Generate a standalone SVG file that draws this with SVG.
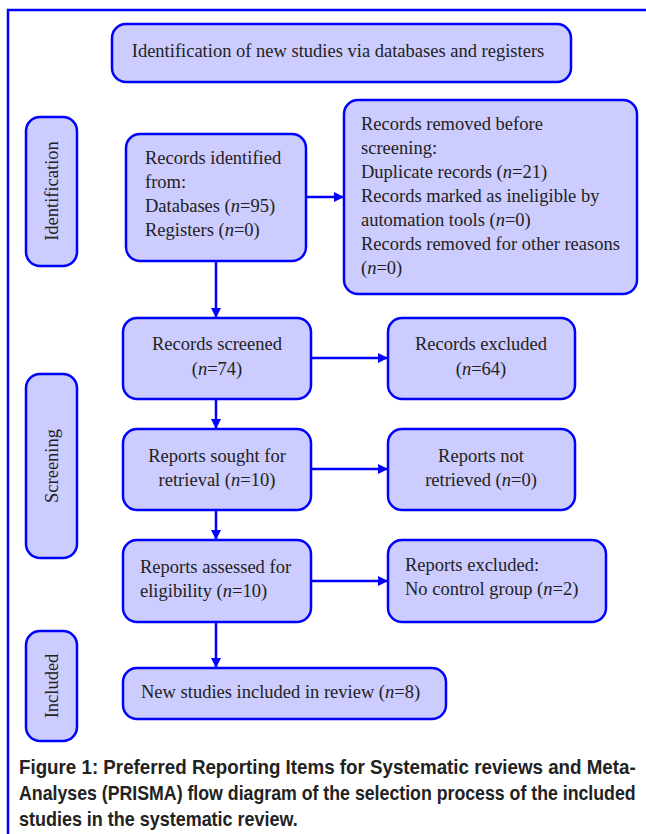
<svg xmlns="http://www.w3.org/2000/svg" width="646" height="834" viewBox="0 0 646 834">
<defs>
<style>
.box{fill:#ccccff;stroke:#0000ff;stroke-width:2.5}
.t{font-family:"Liberation Serif","Times New Roman",serif;font-size:18.5px;fill:#222}
.c{text-anchor:middle}
.cap{font-family:"Liberation Sans",Arial,sans-serif;font-size:21px;font-weight:bold;fill:#222}
.ln{stroke:#0000ff;stroke-width:2.5;fill:none}
</style>
<marker id="ah" markerWidth="10" markerHeight="10" refX="9" refY="5" orient="auto" markerUnits="userSpaceOnUse" viewBox="0 0 10 10">
<path d="M0,0 L10,5 L0,10 z" fill="#0000ff"/>
</marker>
</defs>
<rect width="646" height="834" fill="#fff"/>
<path d="M8,834 V10 H646" class="ln" stroke-width="2"/>

<g id="title">
<rect class="box" x="112" y="24" width="459" height="58" rx="14"/>
<text class="t c" x="338" y="57">Identification of new studies via databases and registers</text>
</g>

<g id="side-identification">
<rect class="box" x="26" y="117" width="51" height="149" rx="14"/>
<text class="t c" transform="translate(58,191) rotate(-90)">Identification</text>
</g>
<g id="side-screening">
<rect class="box" x="26" y="374" width="51" height="184" rx="14"/>
<text class="t c" transform="translate(58,466) rotate(-90)">Screening</text>
</g>
<g id="side-included">
<rect class="box" x="26" y="631" width="51" height="110" rx="14"/>
<text class="t c" transform="translate(58,686) rotate(-90)">Included</text>
</g>

<g id="identified">
<rect class="box" x="126" y="134" width="180" height="127" rx="14"/>
<text class="t" x="145" y="164">Records identified</text>
<text class="t" x="145" y="188">from:</text>
<text class="t" x="145" y="212">Databases (<tspan font-style="italic">n</tspan>=95)</text>
<text class="t" x="145" y="236">Registers (<tspan font-style="italic">n</tspan>=0)</text>
</g>

<g id="removed">
<rect class="box" x="344" y="100" width="293" height="194" rx="14"/>
<text class="t" x="361" y="130">Records removed before</text>
<text class="t" x="361" y="154">screening:</text>
<text class="t" x="361" y="178">Duplicate records (<tspan font-style="italic">n</tspan>=21)</text>
<text class="t" x="361" y="202">Records marked as ineligible by</text>
<text class="t" x="361" y="226">automation tools (<tspan font-style="italic">n</tspan>=0)</text>
<text class="t" x="361" y="250">Records removed for other reasons</text>
<text class="t" x="361" y="274">(<tspan font-style="italic">n</tspan>=0)</text>
</g>

<g id="screened">
<rect class="box" x="123" y="318" width="188" height="81" rx="14"/>
<text class="t c" x="217" y="350">Records screened</text>
<text class="t c" x="217" y="375">(<tspan font-style="italic">n</tspan>=74)</text>
</g>
<g id="excluded">
<rect class="box" x="388" y="318" width="187" height="81" rx="14"/>
<text class="t c" x="481" y="350">Records excluded</text>
<text class="t c" x="481" y="375">(<tspan font-style="italic">n</tspan>=64)</text>
</g>

<g id="sought">
<rect class="box" x="123" y="429" width="188" height="81" rx="14"/>
<text class="t c" x="217" y="462">Reports sought for</text>
<text class="t c" x="217" y="486">retrieval (<tspan font-style="italic">n</tspan>=10)</text>
</g>
<g id="notretrieved">
<rect class="box" x="388" y="429" width="187" height="81" rx="14"/>
<text class="t c" x="481" y="462">Reports not</text>
<text class="t c" x="481" y="486">retrieved (<tspan font-style="italic">n</tspan>=0)</text>
</g>

<g id="assessed">
<rect class="box" x="123" y="540" width="188" height="82" rx="14"/>
<text class="t" x="140" y="573">Reports assessed for</text>
<text class="t" x="140" y="597">eligibility (<tspan font-style="italic">n</tspan>=10)</text>
</g>
<g id="reportsexcluded">
<rect class="box" x="388" y="540" width="218" height="82" rx="14"/>
<text class="t" x="405" y="571">Reports excluded:</text>
<text class="t" x="405" y="595">No control group (<tspan font-style="italic">n</tspan>=2)</text>
</g>

<g id="included">
<rect class="box" x="123" y="668" width="323" height="51" rx="14"/>
<text class="t" x="141" y="698">New studies included in review (<tspan font-style="italic">n</tspan>=8)</text>
</g>

<g id="connectors">
<line class="ln" x1="306" y1="197" x2="343" y2="197" marker-end="url(#ah)"/>
<line class="ln" x1="216" y1="261" x2="216" y2="317" marker-end="url(#ah)"/>
<line class="ln" x1="311" y1="358" x2="387" y2="358" marker-end="url(#ah)"/>
<line class="ln" x1="216" y1="399" x2="216" y2="428" marker-end="url(#ah)"/>
<line class="ln" x1="311" y1="469" x2="387" y2="469" marker-end="url(#ah)"/>
<line class="ln" x1="216" y1="510" x2="216" y2="539" marker-end="url(#ah)"/>
<line class="ln" x1="311" y1="581" x2="387" y2="581" marker-end="url(#ah)"/>
<line class="ln" x1="216" y1="622" x2="216" y2="667" marker-end="url(#ah)"/>
</g>

<g id="caption">
<text class="cap" transform="translate(19,774) scale(0.82,1)" x="0" y="0" textLength="752" lengthAdjust="spacingAndGlyphs">Figure 1: Preferred Reporting Items for Systematic reviews and Meta-</text>
<text class="cap" transform="translate(19,800) scale(0.82,1)" x="0" y="0" textLength="752" lengthAdjust="spacingAndGlyphs">Analyses (PRISMA) flow diagram of the selection process of the included</text>
<text class="cap" transform="translate(19,826) scale(0.82,1)" x="0" y="0" textLength="340" lengthAdjust="spacingAndGlyphs">studies in the systematic review.</text>
</g>
</svg>
